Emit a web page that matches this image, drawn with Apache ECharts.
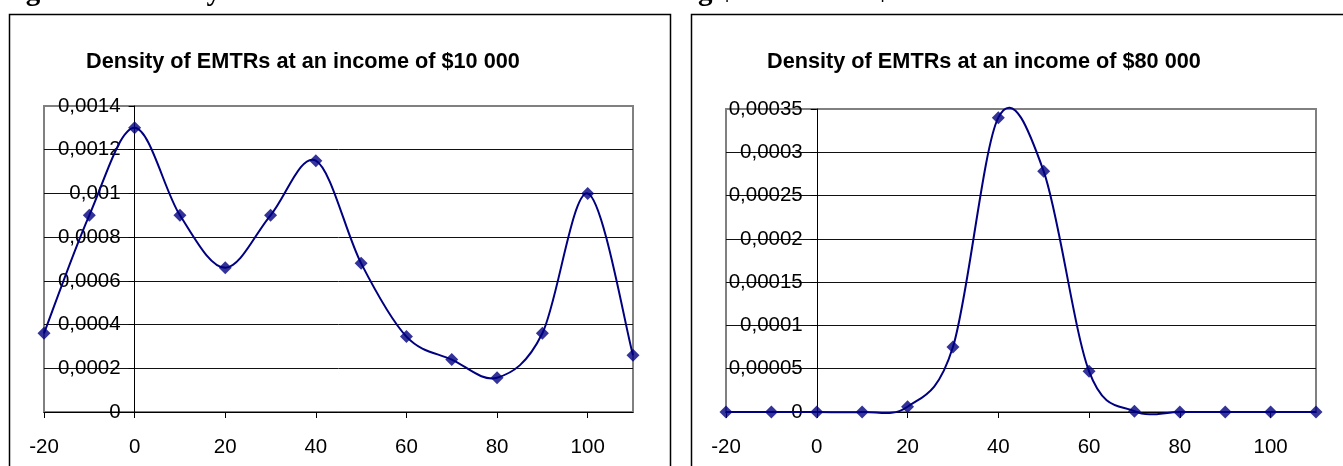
<!DOCTYPE html>
<html>
<head>
<meta charset="utf-8">
<script src="https://cdn.jsdelivr.net/npm/echarts@6/dist/echarts.min.js"></script>
<style>
html,body{margin:0;padding:0;background:#fff;}
#c{width:1343px;height:466px;}
</style>
</head>
<body>
<div id="c"></div>
<script>
// ---- data ----
const xValues = [-20, -10, 0, 10, 20, 30, 40, 50, 60, 70, 80, 90, 100, 110];
const density10k = [0.00036, 0.0009, 0.0013, 0.0009, 0.00066, 0.0009, 0.00115, 0.00068, 0.000345, 0.00024, 0.000157, 0.00036, 0.001, 0.00026];
const density80k = [0, 0, 0, 0, 0.000006, 0.000075, 0.00034, 0.000278, 0.000047, 0.000001, 0, 0, 0, 0];
const xTickValues = [-20, 0, 20, 40, 60, 80, 100];
const yLabels10k = ['0', '0,0002', '0,0004', '0,0006', '0,0008', '0,001', '0,0012', '0,0014'];
const yLabels80k = ['0', '0,00005', '0,0001', '0,00015', '0,0002', '0,00025', '0,0003', '0,00035'];
const figureTitle = 'Figure 3 : Density of EMTRs conditional on income being $10 000 and $80 000';
const title10k = 'Density of EMTRs at an income of $10 000';
const title80k = 'Density of EMTRs at an income of $80 000';

const FONT = "'Liberation Sans', Arial, sans-serif";
const NAVY = '#000080';
const X_MIN = -20, X_MAX = 110;
const grids = [
  { left: 44, top: 106, width: 589, height: 306 },
  { left: 726, top: 109, width: 590, height: 303 }
];

function pairs(xs, ys) { return xs.map((x, i) => [x, ys[i]]); }

function xAxisCfg(gridIndex) {
  return {
    type: 'value', gridIndex: gridIndex,
    min: X_MIN, max: X_MAX, interval: 20,
    axisLine: { show: true, lineStyle: { color: '#000', width: 1 } },
    axisTick: { show: true, length: 6, lineStyle: { color: '#000' }, customValues: xTickValues },
    axisLabel: { fontFamily: FONT, fontSize: 20.5, color: '#000', margin: 25, customValues: xTickValues,
      formatter: v => String(v) },
    splitLine: { show: false }
  };
}
function yAxisCfg(gridIndex, max, interval, labels) {
  // y axis crosses the x axis at x = 0 (shift whole axis: line, ticks, labels)
  const g = grids[gridIndex];
  const shift = (0 - X_MIN) / (X_MAX - X_MIN) * g.width;
  return {
    type: 'value', gridIndex: gridIndex,
    min: 0, max: max, interval: interval,
    offset: -shift,
    axisLine: { show: true, onZero: false, lineStyle: { color: '#000', width: 1 } },
    axisTick: { show: true, length: 6, lineStyle: { color: '#000' } },
    axisLabel: { fontFamily: FONT, fontSize: 20.5, color: '#000', margin: 14,
      formatter: v => labels[Math.round(v / interval)] },
    splitLine: { show: true, showMaxLine: false, lineStyle: { color: '#111', width: 1 } }
  };
}

// Excel-style smoothed curve (Catmull-Rom, tension 1/6) built from points mapped by the axes
function curveSeries(idx, ys) {
  return {
    type: 'custom', xAxisIndex: idx, yAxisIndex: idx,
    coordinateSystem: 'cartesian2d',
    data: [[xValues[0], ys[0]]],
    silent: true, z: 3,
    renderItem: function (params, api) {
      const p = xValues.map((x, i) => api.coord([x, ys[i]]));
      const n = p.length;
      let d = 'M' + p[0][0] + ' ' + p[0][1];
      for (let i = 0; i < n - 1; i++) {
        const p0 = p[Math.max(i - 1, 0)], p1 = p[i], p2 = p[i + 1], p3 = p[Math.min(i + 2, n - 1)];
        const c1x = p1[0] + (p2[0] - p0[0]) / 6, c1y = p1[1] + (p2[1] - p0[1]) / 6;
        const c2x = p2[0] - (p3[0] - p1[0]) / 6, c2y = p2[1] - (p3[1] - p1[1]) / 6;
        d += ' C' + c1x + ' ' + c1y + ' ' + c2x + ' ' + c2y + ' ' + p2[0] + ' ' + p2[1];
      }
      return { type: 'path', shape: { pathData: d }, style: { fill: null, stroke: NAVY, lineWidth: 2 } };
    },
    animation: false
  };
}
function markerSeries(idx, ys) {
  return {
    type: 'scatter', xAxisIndex: idx, yAxisIndex: idx,
    data: pairs(xValues, ys),
    symbol: 'diamond', symbolSize: 13,
    itemStyle: { color: NAVY },
    emphasis: { disabled: true },
    clip: false, z: 4,
    animation: false
  };
}

const chart = echarts.init(document.getElementById('c'), null, { renderer: 'canvas' });
chart.setOption({
  animation: false,
  backgroundColor: '#fff',
  grid: grids.map(g => Object.assign({}, g, {
    show: true, borderColor: '#808080', borderWidth: 2, backgroundColor: 'transparent',
    containLabel: false, outerBoundsMode: 'none'
  })),
  xAxis: [xAxisCfg(0), xAxisCfg(1)],
  yAxis: [yAxisCfg(0, 0.0014, 0.0002, yLabels10k), yAxisCfg(1, 0.00035, 0.00005, yLabels80k)],
  series: [curveSeries(0, density10k), markerSeries(0, density10k), curveSeries(1, density80k), markerSeries(1, density80k)],
  graphic: [
    { type: 'rect', shape: { x: 9.5, y: 14.5, width: 661, height: 520 }, style: { fill: 'none', stroke: '#000', lineWidth: 1.5 }, z: -1, silent: true },
    { type: 'rect', shape: { x: 691.5, y: 14.5, width: 700, height: 520 }, style: { fill: 'none', stroke: '#000', lineWidth: 1.5 }, z: -1, silent: true },
    { type: 'text', x: 0, y: -7, style: { text: figureTitle, font: "bold 29px 'Liberation Serif', 'Times New Roman', serif", fill: '#000', verticalAlign: 'middle', align: 'left' }, silent: true },
    { type: 'text', x: 86, y: 62, style: { text: title10k, font: "bold 21.7px 'Liberation Sans', Arial, sans-serif", fill: '#000', verticalAlign: 'middle', align: 'left' }, silent: true },
    { type: 'text', x: 767, y: 62, style: { text: title80k, font: "bold 21.7px 'Liberation Sans', Arial, sans-serif", fill: '#000', verticalAlign: 'middle', align: 'left' }, silent: true }
  ]
});
</script>
</body>
</html>
